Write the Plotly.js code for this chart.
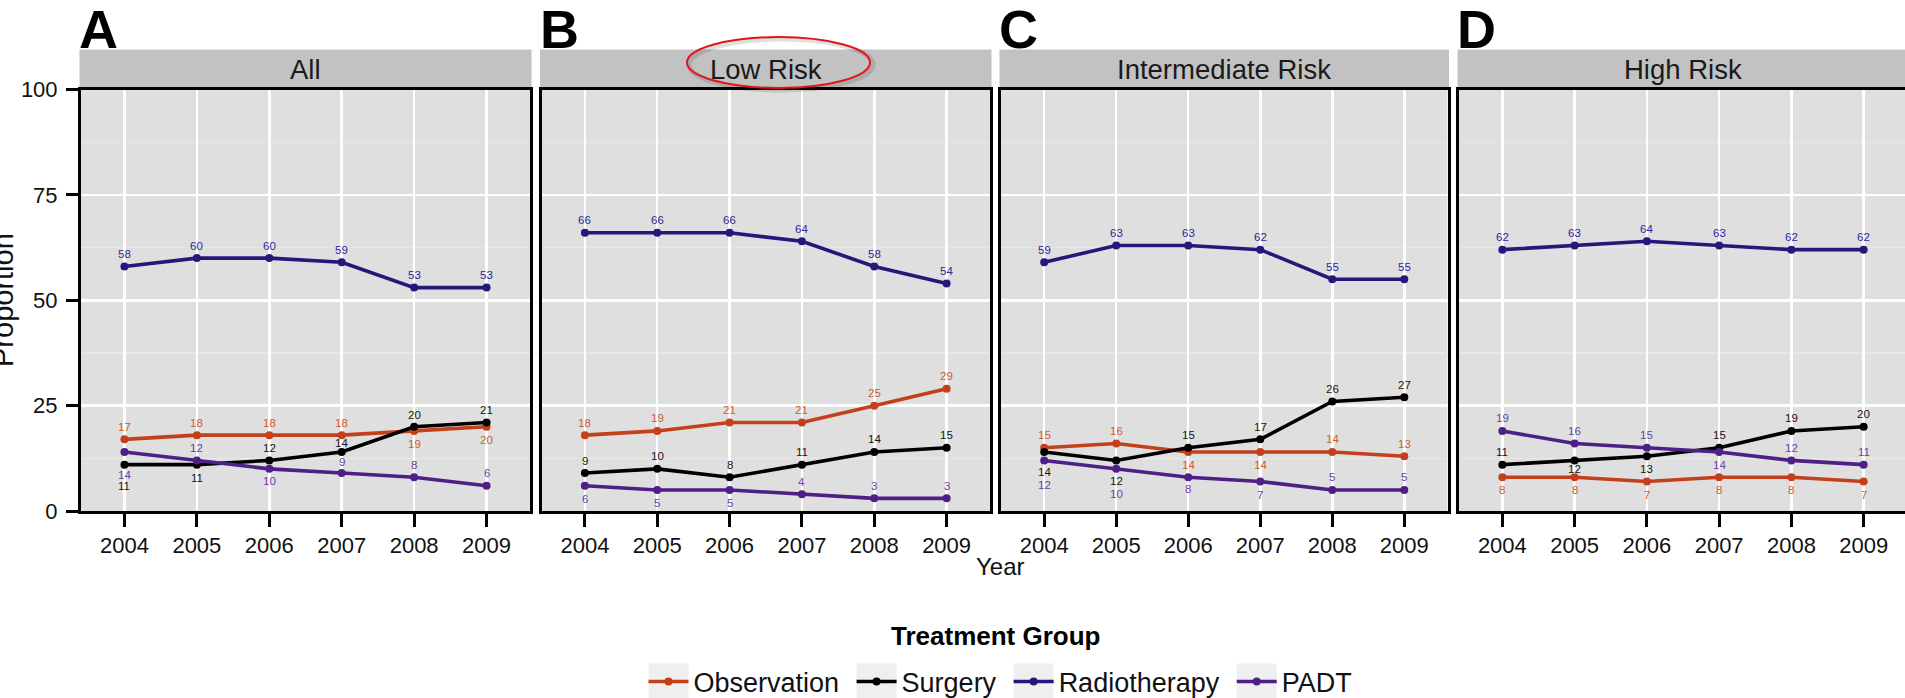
<!DOCTYPE html>
<html><head><meta charset="utf-8">
<script src="https://cdn.plot.ly/plotly-3.0.1.min.js"></script>
<style>html,body{margin:0;padding:0;overflow:hidden;background:#fff;width:1905px;height:698px}#chart{width:1912px;height:740px}</style>
</head><body><div id="chart"></div>
<script>
// ---------- data ----------
const years = [2004, 2005, 2006, 2007, 2008, 2009];
const yearLabels = ['2004', '2005', '2006', '2007', '2008', '2009'];
const yTicks = [0, 25, 50, 75, 100];
const seriesNames = ['Observation', 'Surgery', 'Radiotherapy', 'PADT'];
const panelLetters = ['A', 'B', 'C', 'D'];
const panelTitles = ['All', 'Low Risk', 'Intermediate Risk', 'High Risk'];

const allObservation  = [17, 18, 18, 18, 19, 20];
const allSurgery      = [11, 11, 12, 14, 20, 21];
const allRadiotherapy = [58, 60, 60, 59, 53, 53];
const allPADT         = [14, 12, 10, 9, 8, 6];

const lowObservation  = [18, 19, 21, 21, 25, 29];
const lowSurgery      = [9, 10, 8, 11, 14, 15];
const lowRadiotherapy = [66, 66, 66, 64, 58, 54];
const lowPADT         = [6, 5, 5, 4, 3, 3];

const intObservation  = [15, 16, 14, 14, 14, 13];
const intSurgery      = [14, 12, 15, 17, 26, 27];
const intRadiotherapy = [59, 63, 63, 62, 55, 55];
const intPADT         = [12, 10, 8, 7, 5, 5];

const highObservation  = [8, 8, 7, 8, 8, 7];
const highSurgery      = [11, 12, 13, 15, 19, 20];
const highRadiotherapy = [62, 63, 64, 63, 62, 62];
const highPADT         = [19, 16, 15, 14, 12, 11];

// ---------- label placement (px, + = above point) ----------
const U = 12.5, D = -13;
const labelShift = [
  [[U,U,U,U,D,D], [-21,-13,U,9,12,U], [U,U,U,U,U,U], [-23,U,-12,11,U,13]],
  [[U,U,U,U,U,U], [U,U,U,U,U,U], [U,U,U,U,U,U], [D,D,D,U,U,U]],
  [[U,U,D,D,U,U], [-20.5,-21,U,U,U,U], [U,U,U,U,U,U], [-25,-25,-12,D,U,U]],
  [[D,D,D,D,D,D], [U,-9,D,U,U,U], [U,U,U,U,U,U], [U,U,U,D,U,U]]
];

const panels = [
  [allObservation, allSurgery, allRadiotherapy, allPADT],
  [lowObservation, lowSurgery, lowRadiotherapy, lowPADT],
  [intObservation, intSurgery, intRadiotherapy, intPADT],
  [highObservation, highSurgery, highRadiotherapy, highPADT]
];

// ---------- style ----------
const W = 1912, H = 740;   // page shows the top-left 1905x698 of this
const FONT = 'Arial, "Liberation Sans", sans-serif';
const lineColors  = ['#c4401c', '#000000', '#24187a', '#4e1f86'];
const labelColors = ['#cf5a32', '#161616', '#30279a', '#6b3fa8'];
const panelPx = [[81, 530], [541.5, 990], [1001, 1447.5], [1459, 1907]];
const plotTop = 89.5, plotBottom = 511;
const fx = px => px / W;
const fy = py => 1 - py / H;

const traces = [];
const annotations = [];
const shapes = [];
const layout = {
  width: W, height: H,
  margin: {l: 0, r: 0, t: 0, b: 0, pad: 0},
  paper_bgcolor: '#ffffff',
  plot_bgcolor: '#dfdfdf',
  font: {family: FONT, color: '#000'},
  showlegend: true,
  legend: {
    orientation: 'h', x: fx(1004), xanchor: 'center', y: fy(682), yanchor: 'middle',
    font: {size: 27, family: FONT, color: '#111'},
    bgcolor: 'rgba(0,0,0,0)', itemwidth: 40, tracegroupgap: 0
  },
  annotations: annotations,
  shapes: shapes
};

panels.forEach((series, p) => {
  const sfx = p === 0 ? '' : String(p + 1);
  const [L, R] = panelPx[p];
  layout['xaxis' + sfx] = {
    domain: [fx(L), fx(R)], range: [2003.4, 2009.6], anchor: 'y' + sfx,
    tickmode: 'array', tickvals: years, ticktext: yearLabels,
    showgrid: true, gridcolor: '#ffffff', gridwidth: 2.5, zeroline: false,
    ticks: 'outside', ticklen: 13, tickwidth: 3, tickcolor: '#000',
    showline: true, linewidth: 3, linecolor: '#000', mirror: true,
    tickfont: {size: 22, family: FONT, color: '#111'}, fixedrange: true
  };
  layout['yaxis' + sfx] = {
    domain: [fy(plotBottom), fy(plotTop)], range: [0, 100], anchor: 'x' + sfx,
    tickmode: 'array', tickvals: yTicks, showticklabels: p === 0,
    ticks: p === 0 ? 'outside' : '', ticklen: 12, tickwidth: 3, tickcolor: '#000',
    ticklabelstandoff: 4,
    showgrid: true, gridcolor: '#ffffff', gridwidth: 2.5, zeroline: false,
    minor: {dtick: 12.5, tick0: 0, showgrid: true, gridcolor: '#e8e8e8', gridwidth: 1.2, ticks: ''},
    showline: true, linewidth: 3, linecolor: '#000', mirror: true,
    tickfont: {size: 22, family: FONT, color: '#111'}, fixedrange: true
  };

  series.forEach((vals, s) => {
    traces.push({
      type: 'scatter', mode: 'lines+markers', name: seriesNames[s] + '\u00A0',
      x: years, y: vals, xaxis: 'x' + sfx, yaxis: 'y' + sfx,
      line: {color: lineColors[s], width: 3.6},
      marker: {color: lineColors[s], size: 8},
      showlegend: p === 0, legendgroup: seriesNames[s], hoverinfo: 'skip'
    });
    vals.forEach((v, i) => {
      annotations.push({
        xref: 'x' + sfx, yref: 'y' + sfx, x: years[i], y: v, text: String(v),
        showarrow: false, yshift: labelShift[p][s][i],
        font: {size: 11.5, family: FONT, color: labelColors[s]}
      });
    });
  });

  // strip
  shapes.push({type: 'rect', layer: 'below', xref: 'paper', yref: 'paper',
    x0: fx(L - 1.5), x1: fx(R + 1.5), y0: fy(88), y1: fy(49.5),
    fillcolor: '#c2c2c2', line: {width: 0}});
  annotations.push({xref: 'paper', yref: 'paper', x: fx((L + R) / 2), y: fy(69),
    text: panelTitles[p], showarrow: false, xanchor: 'center', yanchor: 'middle',
    font: {size: 27.5, family: FONT, color: '#1a1a1a'}});
  annotations.push({xref: 'paper', yref: 'paper', x: fx(L - 4), y: fy(29),
    text: '<b>' + panelLetters[p] + '</b>', showarrow: false, xanchor: 'left', yanchor: 'middle',
    font: {size: 54, family: FONT, color: '#000'}});
});

// axis titles and legend title
annotations.push({xref: 'paper', yref: 'paper', x: fx(1000), y: fy(566), text: 'Year',
  showarrow: false, xanchor: 'center', yanchor: 'middle', font: {size: 24, family: FONT, color: '#111'}});
annotations.push({xref: 'paper', yref: 'paper', x: fx(3), y: fy(300), text: 'Proportion',
  textangle: -90, showarrow: false, xanchor: 'center', yanchor: 'middle',
  font: {size: 29, family: FONT, color: '#111'}});
annotations.push({xref: 'paper', yref: 'paper', x: fx(995), y: fy(636), text: '<b>Treatment Group</b>',
  showarrow: false, xanchor: 'center', yanchor: 'middle', font: {size: 26, family: FONT, color: '#000'}});

// highlight ellipse around "Low Risk"
shapes.push({type: 'circle', layer: 'above', xref: 'paper', yref: 'paper',
  x0: fx(689), x1: fx(873), y0: fy(90), y1: fy(39),
  line: {color: 'rgba(0,0,0,0.12)', width: 5}});
shapes.push({type: 'circle', layer: 'above', xref: 'paper', yref: 'paper',
  x0: fx(687), x1: fx(870), y0: fy(88), y1: fy(37),
  line: {color: '#e3141b', width: 2}});

Plotly.newPlot('chart', traces, layout, {staticPlot: true, displayModeBar: false}).then(gd => {
  // light grey key backgrounds behind the legend symbols
  const keyShapes = [];
  gd.querySelectorAll('.legend .traces .legendpoints').forEach(el => {
    const r = el.getBoundingClientRect();
    const cx = (r.left + r.right) / 2, cy = (r.top + r.bottom) / 2;
    keyShapes.push({type: 'rect', layer: 'below', xref: 'paper', yref: 'paper',
      x0: fx(cx - 20), x1: fx(cx + 20), y0: fy(cy + 18), y1: fy(cy - 18),
      fillcolor: '#efefef', line: {width: 0}});
  });
  if (keyShapes.length) Plotly.relayout(gd, {shapes: shapes.concat(keyShapes)});
});
</script></body></html>
